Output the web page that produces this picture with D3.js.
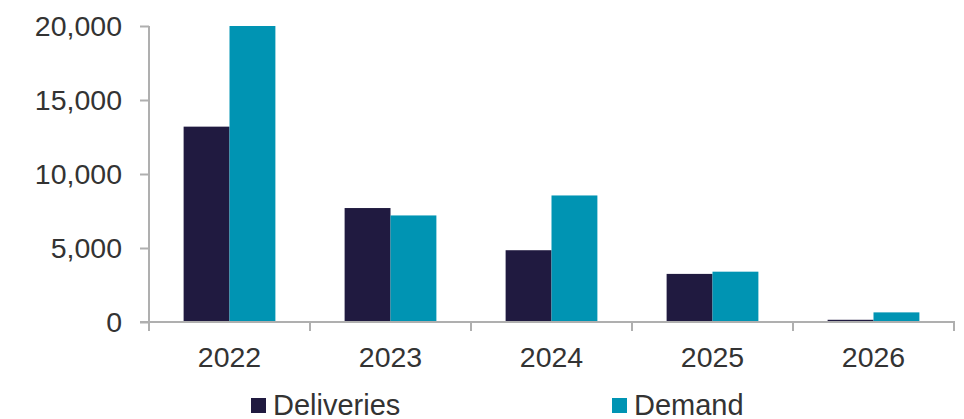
<!DOCTYPE html>
<html>
<head>
<meta charset="utf-8">
<script src="https://cdn.jsdelivr.net/npm/d3@7"></script>
<style>
  html, body { margin: 0; padding: 0; background: #fff; }
  svg { display: block; }
  text { font-family: "Liberation Sans", Arial, sans-serif; fill: #333; }
</style>
</head>
<body>
<svg id="chart" width="964" height="419"></svg>
<script>
const categories = ["2022", "2023", "2024", "2025", "2026"];
const seriesNames = ["Deliveries", "Demand"];
const deliveries = [13200, 7700, 4850, 3250, 150];
const demand = [20000, 7200, 8550, 3400, 650];
const yTicks = [0, 5000, 10000, 15000, 20000];
const colors = ["#201A40", "#0094B3"];

const svg = d3.select("#chart");
const x0 = 149, x1 = 954, yTop = 26, yBottom = 322;

const x = d3.scaleBand().domain(categories).range([x0, x1]).paddingInner(0).paddingOuter(0);
const groupFrac = 0.57;
const xs = d3.scaleBand().domain(seriesNames)
  .range([0, x.bandwidth() * groupFrac]).padding(0);
const y = d3.scaleLinear().domain([0, 20000]).range([yBottom, yTop]);

const axisColor = "#AFAFAF";

// Bars
const data = [deliveries, demand];
seriesNames.forEach((s, si) => {
  svg.append("g").selectAll("rect")
    .data(categories.map((c, i) => ({ c, v: data[si][i] })))
    .join("rect")
    .attr("x", d => x(d.c) + x.bandwidth() * (1 - groupFrac) / 2 + xs(s))
    .attr("y", d => y(d.v))
    .attr("width", xs.bandwidth())
    .attr("height", d => yBottom - y(d.v))
    .attr("fill", colors[si]);
});

// Y axis
const yAxis = svg.append("g").attr("transform", `translate(${x0},0)`)
  .call(d3.axisLeft(y).tickValues(yTicks).tickSize(9).tickPadding(18)
    .tickFormat(d3.format(",")));
yAxis.select(".domain").attr("stroke", axisColor).attr("stroke-width", 2)
  .attr("d", `M0,${yTop}V${yBottom}`);
yAxis.selectAll(".tick line").attr("stroke", axisColor).attr("stroke-width", 2);
yAxis.selectAll(".tick text").attr("font-size", 28.5)
  .attr("font-family", "Liberation Sans, Arial, sans-serif").attr("fill", "#333");

// X axis
const xAxis = svg.append("g").attr("transform", `translate(0,${yBottom})`);
xAxis.append("line").attr("x1", 140).attr("x2", x1 + 1).attr("y1", 0).attr("y2", 0)
  .attr("stroke", axisColor).attr("stroke-width", 2);
const boundaries = categories.map(c => x(c)).concat([x1]);
xAxis.selectAll("line.b").data(boundaries).join("line").attr("class", "b")
  .attr("x1", d => d).attr("x2", d => d).attr("y1", 0).attr("y2", 9)
  .attr("stroke", axisColor).attr("stroke-width", 2);
xAxis.selectAll("text").data(categories).join("text")
  .attr("x", d => x(d) + x.bandwidth() / 2).attr("y", 45)
  .attr("text-anchor", "middle").attr("font-size", 28.5).text(d => d);

// Legend
const legendX = [251, 612];
const lg = svg.append("g");
seriesNames.forEach((s, i) => {
  lg.append("rect").attr("x", legendX[i]).attr("y", 398).attr("width", 15).attr("height", 15)
    .attr("fill", colors[i]);
  lg.append("text").attr("x", legendX[i] + 22).attr("y", 415).attr("font-size", 29).text(s);
});
</script>
</body>
</html>
